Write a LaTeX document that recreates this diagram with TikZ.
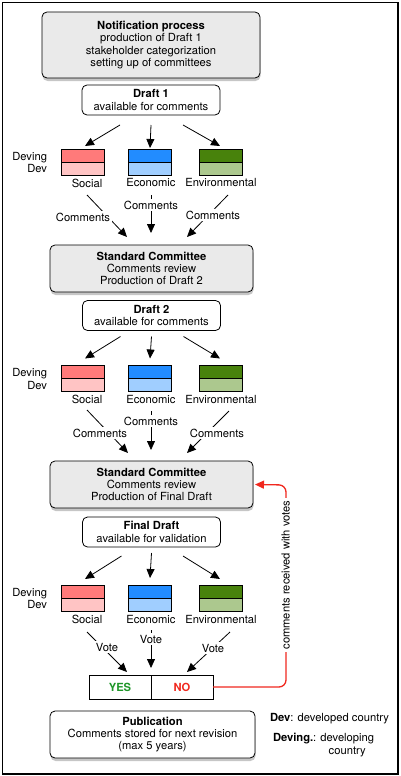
\documentclass[tikz,border=0pt]{standalone}
\usepackage{fontspec}
\setmainfont{TeX Gyre Heros}
\usetikzlibrary{arrows.meta,shadows,positioning}

\definecolor{socdark}{RGB}{255,122,122}
\definecolor{soclight}{RGB}{255,196,196}
\definecolor{ecodark}{RGB}{34,140,255}
\definecolor{ecolight}{RGB}{160,206,255}
\definecolor{envdark}{RGB}{72,130,12}
\definecolor{envlight}{RGB}{172,200,142}
\definecolor{yesgreen}{RGB}{30,150,40}
\definecolor{nored}{RGB}{240,40,30}
\definecolor{boxgray}{RGB}{234,234,234}

\begin{document}
\begin{tikzpicture}[x=1pt,y=-1pt,
  every node/.style={font=\fontsize{11.2}{12.4}\selectfont, inner sep=1pt, outer sep=0pt},
  bigbox/.style={draw, line width=0.8pt, rounded corners=5pt, fill=boxgray, minimum width=203pt, minimum height=47pt, align=center,
    drop shadow={shadow xshift=0.5pt, shadow yshift=-3pt, opacity=0.45}},
  draftbox/.style={draw, line width=0.8pt, rounded corners=5pt, fill=white, minimum width=138pt, minimum height=30pt, align=center},
  catbox/.style 2 args={draw, line width=0.8pt, minimum width=43pt, minimum height=26pt, fill=#1,
    path picture={\fill[#2] (path picture bounding box.west) rectangle (path picture bounding box.south east);
      \draw[line width=0.8pt] (path picture bounding box.west) -- (path picture bounding box.east);}},
  votebox/.style={draw, line width=0.8pt, minimum width=62pt, minimum height=24pt, font=\fontsize{11.2}{12}\selectfont\bfseries},
  arr/.style={line width=0.8pt, -{Triangle[length=9pt,width=8pt]}},
  lbl/.style={fill=white, inner sep=1.5pt}]

\useasboundingbox (0,0) rectangle (401,776);
\draw[line width=1.8pt] (2.5,2.5) rectangle (398,774);

% first round
\node[bigbox, minimum width=218pt, minimum height=66pt] (notif) at (151,45)
  {\textbf{Notification process}\\production of Draft 1\\stakeholder categorization\\setting up of committees};
\node[draftbox] (draft1) at (151,100) {\textbf{Draft 1}\\available for comments};

\node[catbox={socdark}{soclight}] (soc1) at (82.5,162) {};
\node[catbox={ecodark}{ecolight}] (eco1) at (150,162) {};
\node[catbox={envdark}{envlight}] (env1) at (220.5,162) {};
\node[anchor=east, align=right] (dev1) at (48,162.5) {Deving\\Dev};
\node (lsoc1) at (87,183) {Social};
\node (leco1) at (151,183) {Economic};
\node (lenv1) at (221,183) {Environmental};

\draw[arr] ([xshift=-31pt,yshift=-10pt]draft1.south) -- ([xshift=2.5pt,yshift=3pt]soc1.north);
\draw[arr] ([yshift=-10pt]draft1.south) -- ([yshift=1pt]eco1.north);
\draw[arr] ([xshift=32pt,yshift=-10pt]draft1.south) -- ([xshift=-0.5pt,yshift=3pt]env1.north);

\node[bigbox] (sc1) at (151.5,268.5) {\textbf{Standard Committee}\\Comments review\\Production of Draft 2};

\draw[arr] (87,195) -- ([xshift=-24.5pt,yshift=8pt]sc1.north);
\draw[arr] (151,195) -- ([xshift=-0.5pt,yshift=12pt]sc1.north);
\draw[arr] (228,195) -- ([xshift=35.5pt,yshift=8pt]sc1.north);
\node[lbl] (csoc1) at (83,217) {Comments};
\node[lbl] (ceco1) at (151,205) {Comments};
\node[lbl] (cenv1) at (213,215) {Comments};

% second round
\node[draftbox] (draft2) at (151.5,315.5) {\textbf{Draft 2}\\available for comments};

\node[catbox={socdark}{soclight}] (soc2) at (82.5,378.5) {};
\node[catbox={ecodark}{ecolight}] (eco2) at (150,378.5) {};
\node[catbox={envdark}{envlight}] (env2) at (220.5,378.5) {};
\node[anchor=east, align=right] (dev2) at (48,379) {Deving\\Dev};
\node (lsoc2) at (87,399) {Social};
\node (leco2) at (151,399) {Economic};
\node (lenv2) at (221,399) {Environmental};

\draw[arr] ([xshift=-31pt,yshift=-6pt]draft2.south) -- ([xshift=2.5pt,yshift=7pt]soc2.north);
\draw[arr] ([yshift=-6pt]draft2.south) -- ([yshift=7pt]eco2.north);
\draw[arr] ([xshift=32pt,yshift=-6pt]draft2.south) -- ([xshift=-0.5pt,yshift=7pt]env2.north);

\node[bigbox] (sc2) at (151.5,484.5) {\textbf{Standard Committee}\\Comments review\\Production of Final Draft};

\draw[arr] (87,410) -- ([xshift=-23.5pt,yshift=8pt]sc2.north);
\draw[arr] (151,411) -- ([xshift=-0.5pt,yshift=11pt]sc2.north);
\draw[arr] (229,411) -- ([xshift=35.5pt,yshift=8pt]sc2.north);
\node[lbl] (csoc2) at (100,433) {Comments};
\node[lbl] (ceco2) at (151,421) {Comments};
\node[lbl] (cenv2) at (217,433) {Comments};

% final round
\node[draftbox] (draft3) at (151.5,532) {\textbf{Final Draft}\\available for validation};

\node[catbox={socdark}{soclight}] (soc3) at (82.5,598) {};
\node[catbox={ecodark}{ecolight}] (eco3) at (150,598) {};
\node[catbox={envdark}{envlight}] (env3) at (220.5,598) {};
\node[anchor=east, align=right] (dev3) at (48,598.5) {Deving\\Dev};
\node (lsoc3) at (87,619) {Social};
\node (leco3) at (151,619) {Economic};
\node (lenv3) at (221,619) {Environmental};

\draw[arr] ([xshift=-30pt,yshift=-9pt]draft3.south) -- ([xshift=2.5pt,yshift=6pt]soc3.north);
\draw[arr] ([yshift=-6pt]draft3.south) -- ([yshift=7pt]eco3.north);
\draw[arr] ([xshift=31.5pt,yshift=-9pt]draft3.south) -- ([xshift=-0.5pt,yshift=6pt]env3.north);

\node[votebox, text=yesgreen] (yes) at (120,687) {YES};
\node[votebox, text=nored] (no) at (182,687) {NO};

\draw[arr] (87,632) -- ([xshift=7pt,yshift=3pt]yes.north);
\draw[arr] (151,630) -- ([yshift=7pt]yes.north east);
\draw[arr] (230,632) -- ([xshift=5pt,yshift=3pt]no.north);
\node[lbl] (vsoc3) at (107,647) {Vote};
\node[lbl] (veco3) at (151,639) {Vote};
\node[lbl] (venv3) at (213,648) {Vote};

% feedback of the votes
\coordinate (bend) at (286,485);
\draw[nored, line width=1.3pt, rounded corners=7pt, -{Triangle[length=9pt,width=8pt]}]
  (no.east) -| (bend) -- ([xshift=2pt]sc2.east);
\node[lbl, rotate=90, inner sep=2pt] (votes) at (285.5,575) {comments received with votes};

\node[bigbox, fill=white, minimum width=205pt] (pub) at (152.5,734.5)
  {\textbf{Publication}\\Comments stored for next revision\\(max 5 years)};

% legend
\node[anchor=west] (devlbl) at (269,719) {\textbf{Dev}: developed country};
\node[anchor=west] (devinglbl) at (272,739) {\textbf{Deving.}:};
\node[anchor=north west, align=center, inner sep=1pt] (devingtxt) at ([xshift=2pt]devinglbl.north east) {developing\\country};
\end{tikzpicture}
\end{document}
